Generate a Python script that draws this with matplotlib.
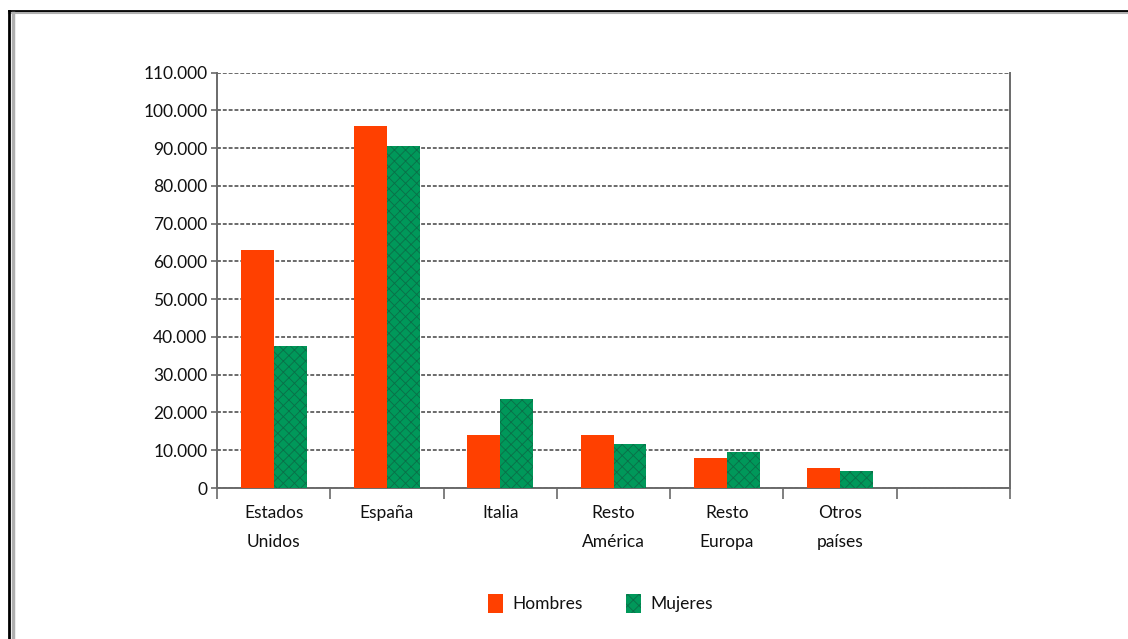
import matplotlib
matplotlib.use('Agg')
import matplotlib.pyplot as plt
from matplotlib.lines import Line2D
from matplotlib.patches import Patch
import numpy as np

plt.rcParams['font.family'] = ['Lato', 'DejaVu Sans']
plt.rcParams['hatch.linewidth'] = 0.6

categories = ['Estados\nUnidos', 'España', 'Italia', 'Resto\nAmérica', 'Resto\nEuropa', 'Otros\npaíses', '']
hombres = [63000, 96000, 14000, 14000, 8000, 5400]
mujeres = [37700, 90500, 23500, 11600, 9500, 4500]
y_ticks = list(range(0, 110001, 10000))
y_labels = ['0'] + [f'{v // 1000}.000' for v in y_ticks[1:]]

RED = '#FF4000'
GREEN = '#00985A'

fig = plt.figure(figsize=(11.28, 6.39), dpi=100)
ax = fig.add_axes([0.1924, 0.2363, 0.703, 0.6499])

x = np.arange(len(hombres))
w = 0.29
ax.bar(x - w / 2, hombres, w, color=RED, linewidth=0, zorder=3, label='Hombres')
ax.bar(x + w / 2, mujeres, w, color=GREEN, edgecolor='#0B6E48', hatch='xxx',
       linewidth=0, zorder=3, label='Mujeres')

ax.set_xlim(-0.5, len(categories) - 0.5)
ax.set_ylim(0, 110000)

# rejilla punteada gris
ax.set_yticks(y_ticks)
ax.set_yticklabels(y_labels, fontsize=12.5, color='#111111')
ax.yaxis.grid(True, color='#6a6a6a', linestyle=(0, (2, 1)), linewidth=1.4, zorder=0)
ax.tick_params(axis='y', length=4, width=1.2, color='#6a6a6a', pad=3)

ax.set_xticks(np.arange(len(categories)))
ax.set_xticklabels(categories, fontsize=12.5, linespacing=2.0, va='top', color='#111111')
ax.tick_params(axis='x', which='major', length=0, pad=12)
ax.set_xticks(np.arange(len(categories) + 1) - 0.5, minor=True)
ax.tick_params(axis='x', which='minor', length=8, width=1.2, color='#6a6a6a')

for side in ['left', 'right', 'bottom']:
    ax.spines[side].set_color('#6a6a6a')
    ax.spines[side].set_linestyle((0, (2, 1)))
    ax.spines[side].set_linewidth(1.4)
ax.spines['top'].set_visible(False)

handles = [Patch(facecolor=RED, label='Hombres'),
           Patch(facecolor=GREEN, edgecolor='#0B6E48', hatch='xxx', linewidth=0, label='Mujeres')]
fig.legend(handles=handles, loc='center', bbox_to_anchor=(0.532, 0.056), ncol=2,
           frameon=False, fontsize=12.5, handlelength=0.9, handleheight=1.3,
           handletextpad=0.5, columnspacing=2.5, labelcolor='#111111')

# marco de la imagen
fig.add_artist(Line2D([0.008, 1.0], [0.9828, 0.9828], color='black', linewidth=2, transform=fig.transFigure))
fig.add_artist(Line2D([0.008, 1.0], [0.9795, 0.9795], color='#b0b0b0', linewidth=1.5, transform=fig.transFigure))
fig.add_artist(Line2D([0.008, 0.008], [0.0, 0.9828], color='black', linewidth=2, transform=fig.transFigure))
fig.add_artist(Line2D([0.0112, 0.0112], [0.0, 0.9795], color='#b0b0b0', linewidth=2.5, transform=fig.transFigure))

fig.savefig('out.png', dpi=100)
